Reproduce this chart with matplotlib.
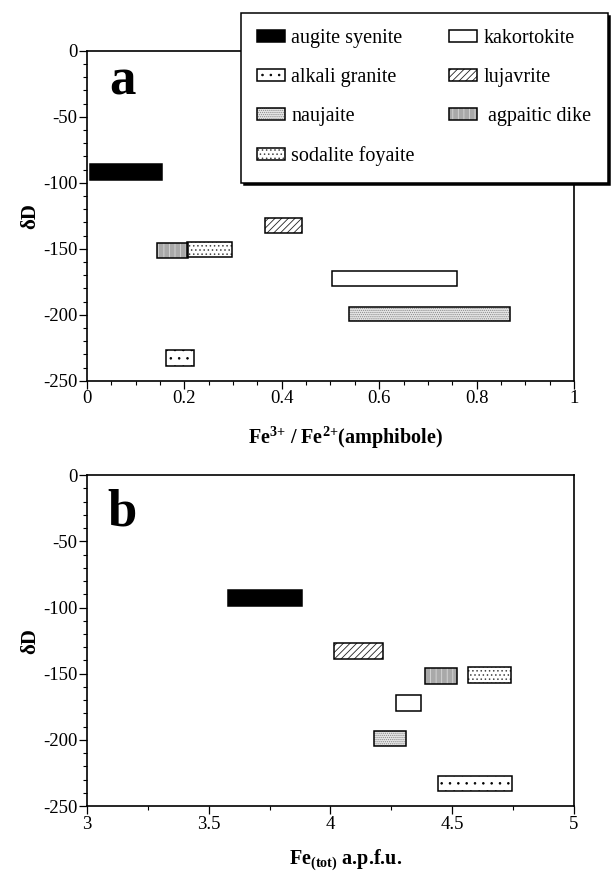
import matplotlib
matplotlib.use('Agg')
import matplotlib.pyplot as plt
from matplotlib.ticker import MultipleLocator, FuncFormatter

plt.rcParams['font.family'] = ['Liberation Serif', 'DejaVu Serif']
plt.rcParams['mathtext.fontset'] = 'custom'
plt.rcParams['mathtext.rm'] = 'Liberation Serif'
plt.rcParams['mathtext.bf'] = 'Liberation Serif:bold'
plt.rcParams['axes.unicode_minus'] = False
plt.rcParams['hatch.linewidth'] = 0.6

# rock types (legend order: column 1 then column 2)
rocks = ['augite syenite', 'alkali granite', 'naujaite', 'sodalite foyaite',
         'kakortokite', 'lujavrite', ' agpaitic dike']

# panel a: Fe3+/Fe2+ ranges and dD ranges
a_xlo = [0.006, 0.162, 0.537, 0.205, 0.504, 0.366, 0.143]
a_xhi = [0.154, 0.219, 0.869, 0.298, 0.760, 0.442, 0.208]
a_ylo = [-98, -239, -205, -156, -178, -138, -157]
a_yhi = [-86, -227, -194, -145, -167, -127, -146]

# panel b: Fe(tot) ranges and dD ranges
b_xlo = [3.579, 4.440, 4.180, 4.566, 4.269, 4.015, 4.388]
b_xhi = [3.883, 4.745, 4.309, 4.742, 4.370, 4.217, 4.521]
b_ylo = [-99, -239, -205, -157, -178, -139, -158]
b_yhi = [-87, -227, -193, -145, -166, -127, -146]

# fill colour, hatch, hatch colour for each rock (same order as rocks)
fills = ['black', 'white', '#e6e6e6', 'white', 'white', 'white', '#a9a9a9']
hatches = [None, '..', '........', '....', None, '/////', '|||']
hatch_cols = ['black', 'black', '#8a8a8a', '#444444', 'white', '#222222', '#d8d8d8']

fig = plt.figure(figsize=(6.11, 8.73), dpi=100)
ax_a = fig.add_axes([0.1424, 0.5639, 0.797, 0.378])
ax_b = fig.add_axes([0.1424, 0.0767, 0.797, 0.379])

handles = []
for ax, xlo, xhi, ylo, yhi in [(ax_a, a_xlo, a_xhi, a_ylo, a_yhi),
                               (ax_b, b_xlo, b_xhi, b_ylo, b_yhi)]:
    for i in range(len(rocks)):
        w = xhi[i] - xlo[i]
        h = yhi[i] - ylo[i]
        f = ax.bar(xlo[i], h, width=w, bottom=ylo[i], align='edge',
                   color=fills[i], edgecolor=hatch_cols[i], hatch=hatches[i],
                   linewidth=0, zorder=2)
        o = ax.bar(xlo[i], h, width=w, bottom=ylo[i], align='edge',
                   fill=False, edgecolor='black', linewidth=1.1, zorder=3)
        if ax is ax_a:
            handles.append((f.patches[0], o.patches[0]))

fmt = FuncFormatter(lambda v, p: '%g' % v)
for ax in (ax_a, ax_b):
    ax.set_ylim(-250, 0)
    ax.yaxis.set_major_locator(MultipleLocator(50))
    ax.yaxis.set_minor_locator(MultipleLocator(10))
    ax.xaxis.set_major_formatter(fmt)
    ax.yaxis.set_major_formatter(fmt)
    ax.tick_params(which='major', direction='out', length=5.5, width=0.9,
                   labelsize=13.5, pad=1.5)
    ax.tick_params(which='minor', direction='out', length=2.8, width=0.8)
    for s in ax.spines.values():
        s.set_linewidth(1.2)
    ax.set_ylabel('δD', fontsize=15, fontweight='bold')
    ax.yaxis.set_label_coords(-0.095, 0.5)

ax_a.set_xlim(0, 1)
ax_a.xaxis.set_major_locator(MultipleLocator(0.2))
ax_a.xaxis.set_minor_locator(MultipleLocator(0.05))
ax_a.set_xlabel(r'Fe$^{\mathbf{3{+}}}$ / Fe$^{\mathbf{2{+}}}$(amphibole)',
                fontsize=14.5, fontweight='bold')
ax_a.xaxis.set_label_coords(0.53, -0.13)

ax_b.set_xlim(3, 5)
ax_b.xaxis.set_major_locator(MultipleLocator(0.5))
ax_b.xaxis.set_minor_locator(MultipleLocator(0.25))
ax_b.set_xlabel(r'Fe$_{\mathbf{(tot)}}$ a.p.f.u.', fontsize=14.5, fontweight='bold')
ax_b.xaxis.set_label_coords(0.53, -0.125)

ax_a.text(0.045, 0.866, 'a', transform=ax_a.transAxes, fontsize=38,
          fontweight='bold', va='baseline')
ax_b.text(0.041, 0.847, 'b', transform=ax_b.transAxes, fontsize=38,
          fontweight='bold', va='baseline')

leg = fig.legend(handles, rocks, ncol=2, loc='upper left',
                 bbox_to_anchor=(241 / 611, 1 - 13 / 873), borderaxespad=0,
                 fontsize=14.5, frameon=True, fancybox=False,
                 shadow={'color': 'black', 'alpha': 1},
                 handlelength=1.4, handleheight=0.55, handletextpad=0.3,
                 labelspacing=1.0, columnspacing=1.7, borderpad=0.8)
leg.get_frame().set_edgecolor('black')
leg.get_frame().set_linewidth(1.1)
leg.get_frame().set_alpha(1)

fig.savefig('out.png', dpi=100)
